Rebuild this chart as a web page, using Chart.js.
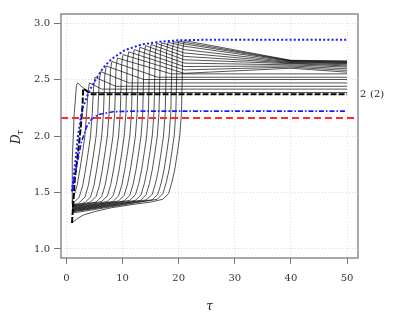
<!DOCTYPE html>
<html><head><meta charset="utf-8">
<script src="https://cdn.jsdelivr.net/npm/chart.js@4.4.0/dist/chart.umd.min.js"></script>
<style>html,body{margin:0;background:#fff}</style>
</head><body>
<canvas id="c" width="399" height="319"></canvas>
<script>
// axis setup
const xTicks=[0,10,20,30,40,50];
const yTicks=[1.0,1.5,2.0,2.5,3.0];
const xLim=[-0.96,51.96], yLim=[0.92,3.08];
const redLevel=2.16;
const tag=['2','(2)'];

// reference curves (tau, D)
const blueDotted=[[1,1.51],[1.3,1.65],[1.66,1.80],[2.07,2.0],[2.6,2.17],[3.0,2.26],[3.6,2.34],[4.2,2.41],[5.36,2.51],[6.5,2.6],[8,2.68],[10.4,2.76],[13.4,2.81],[16.7,2.835],[20.2,2.848],[25,2.852],[50,2.852]];
const blueDashDot=[[1,1.51],[1.5,1.66],[2,1.78],[2.7,1.95],[3.6,2.08],[4.5,2.15],[5.7,2.19],[8.3,2.215],[12,2.22],[50,2.22]];

// family of trajectories, one per start
const curve01=[[1,1.40],[1.05,1.8],[1.4,2.2],[1.8,2.45],[2.0,2.47],[3.9,2.385],[50,2.385]];
const curve02=[[1,1.23],[1.5,1.62],[2.1,1.86],[2.5,2.05],[2.85,2.25],[3.0,2.42],[4.5,2.37],[50,2.37]];
const curve03=[[1,1.41],[1.3,1.46],[1.9,1.56],[2.4,1.70],[2.9,1.86],[3.3,2.0],[3.6,2.2],[3.85,2.39],[4.1,2.47],[6.3,2.415],[50,2.415]];
const curve04=[[1,1.40],[1.3,1.41],[2.3,1.46],[2.9,1.56],[3.4,1.70],[3.9,1.86],[4.3,2.0],[4.6,2.2],[4.85,2.44],[5.1,2.52],[8.8,2.44],[50,2.44]];
const curve05=[[1,1.395],[2,1.40],[2.3,1.41],[3.3,1.46],[3.9,1.56],[4.4,1.70],[4.9,1.86],[5.3,2.0],[5.6,2.2],[5.85,2.49],[6.1,2.57],[11.2,2.47],[50,2.47]];
const curve06=[[1,1.39],[2,1.395],[3.3,1.41],[4.3,1.46],[4.9,1.56],[5.4,1.70],[5.9,1.86],[6.3,2.0],[6.6,2.2],[6.85,2.54],[7.1,2.62],[13.8,2.50],[50,2.50]];
const curve07=[[1,1.385],[2,1.39],[4.3,1.415],[5.3,1.465],[5.9,1.565],[6.4,1.70],[6.9,1.86],[7.3,2.0],[7.6,2.2],[7.85,2.58],[8.1,2.66],[16.3,2.52],[50,2.52]];
const curve08=[[1,1.38],[2,1.385],[5.3,1.415],[6.3,1.465],[6.9,1.565],[7.4,1.70],[7.9,1.86],[8.3,2.0],[8.6,2.2],[8.85,2.61],[9.1,2.69],[18.7,2.55],[50,2.55]];
const curve09=[[1,1.375],[2,1.38],[6.3,1.42],[7.3,1.47],[7.9,1.57],[8.4,1.70],[8.9,1.86],[9.3,2.0],[9.6,2.2],[9.85,2.64],[10.1,2.72],[21,2.555],[40,2.60],[50,2.565]];
const curve10=[[1,1.37],[2,1.375],[7.3,1.42],[8.3,1.47],[8.9,1.57],[9.4,1.70],[9.9,1.86],[10.3,2.0],[10.6,2.2],[10.85,2.665],[11.1,2.745],[21,2.585],[40,2.61],[50,2.58]];
const curve11=[[1,1.365],[2,1.37],[8.3,1.42],[9.3,1.47],[9.9,1.57],[10.4,1.70],[10.9,1.86],[11.3,2.0],[11.6,2.2],[11.85,2.685],[12.1,2.765],[21,2.615],[40,2.62],[50,2.595]];
const curve12=[[1,1.36],[2,1.365],[9.3,1.425],[10.3,1.475],[10.9,1.575],[11.4,1.70],[11.9,1.86],[12.3,2.0],[12.6,2.2],[12.85,2.705],[13.1,2.785],[21,2.645],[40,2.63],[50,2.61]];
const curve13=[[1,1.355],[2,1.36],[10.3,1.425],[11.3,1.475],[11.9,1.575],[12.4,1.70],[12.9,1.86],[13.3,2.0],[13.6,2.2],[13.85,2.72],[14.1,2.80],[21,2.675],[40,2.64],[50,2.62]];
const curve14=[[1,1.35],[2,1.355],[11.3,1.43],[12.3,1.48],[12.9,1.58],[13.4,1.70],[13.9,1.86],[14.3,2.0],[14.6,2.2],[14.85,2.73],[15.1,2.81],[21,2.705],[40,2.645],[50,2.63]];
const curve15=[[1,1.345],[2,1.35],[12.3,1.43],[13.3,1.48],[13.9,1.58],[14.4,1.70],[14.9,1.86],[15.3,2.0],[15.6,2.2],[15.85,2.74],[16.1,2.82],[21,2.735],[40,2.65],[50,2.64]];
const curve16=[[1,1.34],[2,1.345],[13.2,1.43],[14.2,1.48],[14.8,1.58],[15.3,1.70],[15.8,1.86],[16.2,2.0],[16.5,2.2],[16.75,2.745],[17.0,2.825],[21,2.765],[40,2.655],[50,2.645]];
const curve17=[[1,1.335],[2,1.34],[14.3,1.435],[15.3,1.485],[15.9,1.585],[16.4,1.70],[16.9,1.86],[17.3,2.0],[17.6,2.2],[17.85,2.75],[18.1,2.83],[21,2.795],[40,2.66],[50,2.65]];
const curve18=[[1,1.33],[2,1.335],[15.3,1.435],[16.3,1.485],[16.9,1.585],[17.4,1.70],[17.9,1.86],[18.3,2.0],[18.6,2.2],[18.85,2.755],[19.1,2.835],[21,2.815],[40,2.665],[50,2.655]];
const curve19=[[1,1.32],[2,1.325],[16.2,1.44],[17.2,1.49],[17.8,1.59],[18.3,1.70],[18.8,1.86],[19.2,2.0],[19.5,2.2],[19.75,2.76],[20.0,2.84],[21,2.83],[40,2.667],[50,2.66]];
const curve20=[[1,1.23],[2,1.27],[3,1.30],[5,1.33],[8,1.365],[12,1.395],[15,1.415],[17.2,1.44],[18.2,1.49],[18.8,1.59],[19.3,1.70],[19.8,1.86],[20.2,2.0],[20.5,2.2],[20.75,2.765],[21.0,2.845],[40,2.67],[50,2.665]];
const thinCurves=[curve01,curve03,curve04,curve05,curve06,curve07,curve08,curve09,curve10,curve11,curve12,curve13,curve14,curve15,curve16,curve17,curve18,curve19,curve20];
const boldCurve=curve02;

const pts=a=>a.map(p=>({x:p[0],y:p[1]}));
const serif="'DejaVu Serif','Liberation Serif',serif";

const datasets=[
  {data:pts([[xLim[0],redLevel],[xLim[1],redLevel]]),borderColor:'#ff2a2a',borderWidth:2,borderDash:[7,4]},
  {data:pts(blueDotted),borderColor:'#1a1aff',borderWidth:2,borderDash:[2,2.2]},
  {data:pts(blueDashDot),borderColor:'#1a1aff',borderWidth:1.6,borderDash:[5,2,1.5,2]},
  {data:pts(boldCurve),borderColor:'#000',borderWidth:2,borderDash:[6,2]}
];
thinCurves.forEach(c=>datasets.push({data:pts(c),borderColor:'rgba(0,0,0,0.85)',borderWidth:0.8}));

const extras={
  id:'extras',
  afterDraw(ch){
    const {ctx,chartArea:a,scales}=ch;
    ctx.save();
    ctx.strokeStyle='#8c8c8c'; ctx.lineWidth=1.5;
    ctx.strokeRect(a.left,a.top,a.right-a.left,a.bottom-a.top);
    // tag for the bold curve
    const yv=scales.y.getPixelForValue(boldCurve[boldCurve.length-1][1]);
    ctx.fillStyle='#222'; ctx.font='10px '+serif; ctx.textBaseline='middle';
    ctx.fillText(tag[0],a.right+2,yv);
    ctx.fillText(tag[1],a.right+12,yv);
    // y title D_tau
    ctx.translate(16,137); ctx.rotate(-Math.PI/2);
    ctx.fillStyle='#222';
    ctx.font='italic 12px '+serif; ctx.textBaseline='alphabetic';
    ctx.fillText('D',-7,4);
    ctx.font='italic 9px '+serif;
    ctx.fillText('τ',2,7);
    ctx.restore();
  }
};

new Chart(document.getElementById('c'),{
  type:'line',
  data:{datasets},
  options:{
    responsive:false,animation:false,events:[],devicePixelRatio:1,
    layout:{padding:{left:0,top:14,right:41,bottom:0}},
    elements:{point:{radius:0},line:{tension:0,fill:false}},
    plugins:{legend:{display:false},tooltip:{enabled:false}},
    scales:{
      x:{type:'linear',min:xLim[0],max:xLim[1],
        afterBuildTicks:s=>{s.ticks=xTicks.map(v=>({value:v}));},
        afterFit:s=>{s.height=61;},
        ticks:{font:{family:serif,size:10},color:'#333',padding:8,maxRotation:0},
        grid:{color:'#dcdcdc',tickColor:'#777',tickLength:6,tickBorderDash:[10,0]},
        border:{display:false,dash:[1,2]},
        title:{display:true,text:'τ',font:{family:serif,size:12,style:'italic'},color:'#222',padding:{top:0,bottom:5}}
      },
      y:{type:'linear',min:yLim[0],max:yLim[1],
        afterBuildTicks:s=>{s.ticks=yTicks.map(v=>({value:v}));},
        afterFit:s=>{s.width=61;},
        ticks:{font:{family:serif,size:10},color:'#333',padding:4,callback:v=>v.toFixed(1)},
        grid:{color:'#dcdcdc',tickColor:'#777',tickLength:7,tickBorderDash:[10,0]},
        border:{display:false,dash:[1,2]}
      }
    }
  },
  plugins:[extras]
});
</script>
</body></html>
